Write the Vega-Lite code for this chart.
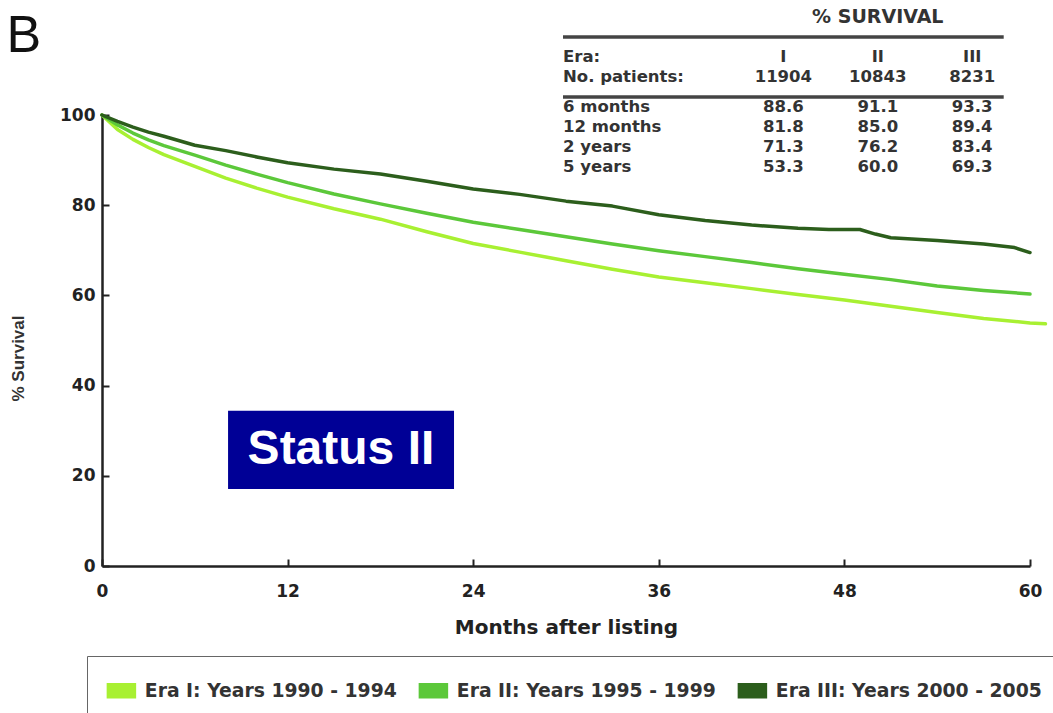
{
  "$schema": "https://vega.github.io/schema/vega-lite/v6.json",
  "width": 928,
  "height": 451,
  "autosize": {"type": "none"},
  "padding": {"left": 102, "top": 115, "right": 23, "bottom": 147},
  "background": "white",
  "config": {"view": {"stroke": null}},
  "resolve": {"scale": {"x": "independent", "y": "independent"}},
  "layer": [
    {
      "layer": [
        {
          "data": {"values": [
            {"era": "Era I: Years 1990 - 1994", "month": 0, "survival": 100},
            {"era": "Era I: Years 1990 - 1994", "month": 1, "survival": 96.8},
            {"era": "Era I: Years 1990 - 1994", "month": 2, "survival": 94.6},
            {"era": "Era I: Years 1990 - 1994", "month": 3, "survival": 92.8},
            {"era": "Era I: Years 1990 - 1994", "month": 4, "survival": 91.2},
            {"era": "Era I: Years 1990 - 1994", "month": 6, "survival": 88.6},
            {"era": "Era I: Years 1990 - 1994", "month": 8, "survival": 86.0},
            {"era": "Era I: Years 1990 - 1994", "month": 10, "survival": 83.8},
            {"era": "Era I: Years 1990 - 1994", "month": 12, "survival": 81.8},
            {"era": "Era I: Years 1990 - 1994", "month": 15, "survival": 79.2},
            {"era": "Era I: Years 1990 - 1994", "month": 18, "survival": 76.9},
            {"era": "Era I: Years 1990 - 1994", "month": 21, "survival": 74.1},
            {"era": "Era I: Years 1990 - 1994", "month": 24, "survival": 71.5},
            {"era": "Era I: Years 1990 - 1994", "month": 27, "survival": 69.6},
            {"era": "Era I: Years 1990 - 1994", "month": 30, "survival": 67.7},
            {"era": "Era I: Years 1990 - 1994", "month": 33, "survival": 65.8},
            {"era": "Era I: Years 1990 - 1994", "month": 36, "survival": 64.1},
            {"era": "Era I: Years 1990 - 1994", "month": 39, "survival": 62.8},
            {"era": "Era I: Years 1990 - 1994", "month": 42, "survival": 61.5},
            {"era": "Era I: Years 1990 - 1994", "month": 45, "survival": 60.2},
            {"era": "Era I: Years 1990 - 1994", "month": 48, "survival": 59.0},
            {"era": "Era I: Years 1990 - 1994", "month": 51, "survival": 57.6},
            {"era": "Era I: Years 1990 - 1994", "month": 54, "survival": 56.2},
            {"era": "Era I: Years 1990 - 1994", "month": 57, "survival": 54.9},
            {"era": "Era I: Years 1990 - 1994", "month": 60, "survival": 53.9},
            {"era": "Era I: Years 1990 - 1994", "month": 61, "survival": 53.7},
            {"era": "Era II: Years 1995 - 1999", "month": 0, "survival": 100},
            {"era": "Era II: Years 1995 - 1999", "month": 1, "survival": 97.8},
            {"era": "Era II: Years 1995 - 1999", "month": 2, "survival": 96.0},
            {"era": "Era II: Years 1995 - 1999", "month": 3, "survival": 94.5},
            {"era": "Era II: Years 1995 - 1999", "month": 4, "survival": 93.2},
            {"era": "Era II: Years 1995 - 1999", "month": 6, "survival": 91.1},
            {"era": "Era II: Years 1995 - 1999", "month": 8, "survival": 88.9},
            {"era": "Era II: Years 1995 - 1999", "month": 10, "survival": 86.9},
            {"era": "Era II: Years 1995 - 1999", "month": 12, "survival": 85.0},
            {"era": "Era II: Years 1995 - 1999", "month": 15, "survival": 82.5},
            {"era": "Era II: Years 1995 - 1999", "month": 18, "survival": 80.3},
            {"era": "Era II: Years 1995 - 1999", "month": 21, "survival": 78.2},
            {"era": "Era II: Years 1995 - 1999", "month": 24, "survival": 76.2},
            {"era": "Era II: Years 1995 - 1999", "month": 27, "survival": 74.6},
            {"era": "Era II: Years 1995 - 1999", "month": 30, "survival": 73.0},
            {"era": "Era II: Years 1995 - 1999", "month": 33, "survival": 71.4},
            {"era": "Era II: Years 1995 - 1999", "month": 36, "survival": 69.9},
            {"era": "Era II: Years 1995 - 1999", "month": 39, "survival": 68.6},
            {"era": "Era II: Years 1995 - 1999", "month": 42, "survival": 67.3},
            {"era": "Era II: Years 1995 - 1999", "month": 45, "survival": 65.9},
            {"era": "Era II: Years 1995 - 1999", "month": 48, "survival": 64.7},
            {"era": "Era II: Years 1995 - 1999", "month": 51, "survival": 63.5},
            {"era": "Era II: Years 1995 - 1999", "month": 54, "survival": 62.1},
            {"era": "Era II: Years 1995 - 1999", "month": 57, "survival": 61.1},
            {"era": "Era II: Years 1995 - 1999", "month": 60, "survival": 60.3},
            {"era": "Era III: Years 2000 - 2005", "month": 0, "survival": 100},
            {"era": "Era III: Years 2000 - 2005", "month": 1, "survival": 98.6},
            {"era": "Era III: Years 2000 - 2005", "month": 2, "survival": 97.3},
            {"era": "Era III: Years 2000 - 2005", "month": 3, "survival": 96.2},
            {"era": "Era III: Years 2000 - 2005", "month": 4, "survival": 95.3},
            {"era": "Era III: Years 2000 - 2005", "month": 6, "survival": 93.3},
            {"era": "Era III: Years 2000 - 2005", "month": 8, "survival": 92.1},
            {"era": "Era III: Years 2000 - 2005", "month": 10, "survival": 90.7},
            {"era": "Era III: Years 2000 - 2005", "month": 12, "survival": 89.4},
            {"era": "Era III: Years 2000 - 2005", "month": 15, "survival": 88.0},
            {"era": "Era III: Years 2000 - 2005", "month": 18, "survival": 86.9},
            {"era": "Era III: Years 2000 - 2005", "month": 21, "survival": 85.3},
            {"era": "Era III: Years 2000 - 2005", "month": 24, "survival": 83.6},
            {"era": "Era III: Years 2000 - 2005", "month": 27, "survival": 82.4},
            {"era": "Era III: Years 2000 - 2005", "month": 30, "survival": 80.9},
            {"era": "Era III: Years 2000 - 2005", "month": 33, "survival": 79.8},
            {"era": "Era III: Years 2000 - 2005", "month": 36, "survival": 77.9},
            {"era": "Era III: Years 2000 - 2005", "month": 39, "survival": 76.6},
            {"era": "Era III: Years 2000 - 2005", "month": 42, "survival": 75.6},
            {"era": "Era III: Years 2000 - 2005", "month": 45, "survival": 74.9},
            {"era": "Era III: Years 2000 - 2005", "month": 47, "survival": 74.6},
            {"era": "Era III: Years 2000 - 2005", "month": 49, "survival": 74.6},
            {"era": "Era III: Years 2000 - 2005", "month": 50, "survival": 73.6},
            {"era": "Era III: Years 2000 - 2005", "month": 51, "survival": 72.8},
            {"era": "Era III: Years 2000 - 2005", "month": 54, "survival": 72.2},
            {"era": "Era III: Years 2000 - 2005", "month": 57, "survival": 71.4},
            {"era": "Era III: Years 2000 - 2005", "month": 59, "survival": 70.6},
            {"era": "Era III: Years 2000 - 2005", "month": 60, "survival": 69.5}
          ]},
          "mark": {"type": "line", "strokeWidth": 3.5, "strokeCap": "round", "strokeJoin": "round", "clip": false},
          "encoding": {
            "x": {"field": "month", "type": "quantitative",
              "scale": {"domain": [0, 60], "nice": false, "zero": false},
              "axis": {"title": "Months after listing", "values": [0, 12, 24, 36, 48, 60], "grid": false,
                "domainColor": "#222", "domainWidth": 2.5, "tickColor": "#222", "tickWidth": 2, "tickSize": -7,
                "labelFont": "DejaVu Sans", "labelFontWeight": "bold", "labelFontSize": 17, "labelColor": "#222", "labelPadding": 24, "labelFlush": false,
                "titleFont": "DejaVu Sans", "titleFontWeight": "bold", "titleFontSize": 20, "titleColor": "#222", "titlePadding": 18}},
            "y": {"field": "survival", "type": "quantitative",
              "scale": {"domain": [0, 100], "nice": false},
              "axis": {"title": "% Survival", "values": [0, 20, 40, 60, 80, 100], "grid": false,
                "domainColor": "#222", "domainWidth": 2.5, "tickColor": "#222", "tickWidth": 2, "tickSize": -7,
                "labelFont": "DejaVu Sans", "labelFontWeight": "bold", "labelFontSize": 17, "labelColor": "#222", "labelPadding": 14,
                "titleFont": "Liberation Sans", "titleFontWeight": "bold", "titleFontSize": 17, "titleColor": "#333", "titlePadding": 32, "titleY": 243}},
            "color": {"field": "era", "type": "nominal",
              "scale": {"domain": ["Era I: Years 1990 - 1994", "Era II: Years 1995 - 1999", "Era III: Years 2000 - 2005"], "range": ["#a8f032", "#5cc83a", "#2c5e1c"]},
              "legend": {"title": null, "orient": "none", "legendX": -15, "legendY": 541, "direction": "horizontal",
                "symbolType": "M-2,-1H2V1H-2Z", "symbolSize": 196, "symbolOpacity": 1,
                "labelFont": "DejaVu Sans", "labelFontWeight": "bold", "labelFontSize": 18.8, "labelColor": "#333", "labelLimit": 400,
                "labelOffset": 14, "columnPadding": 19, "padding": 25, "strokeColor": "#666",
                "encode": {"symbols": {"update": {"fill": {"scale": "color", "field": "value"}, "stroke": {"value": "#555"}, "strokeWidth": {"value": 1.5}, "opacity": {"value": 1}}}}}}
          }
        },
        {
          "data": {"values": [{"label": "Status II"}]},
          "layer": [
            {
              "mark": {"type": "rect", "color": "#000096", "clip": false},
              "encoding": {
                "x": {"datum": 8.15, "type": "quantitative"},
                "x2": {"datum": 22.76},
                "y": {"datum": 34.4, "type": "quantitative"},
                "y2": {"datum": 17.1}
              }
            },
            {
              "mark": {"type": "text", "color": "white", "font": "Liberation Sans", "fontWeight": "bold", "fontSize": 48, "align": "center", "baseline": "middle", "clip": false},
              "encoding": {
                "x": {"datum": 15.45, "type": "quantitative"},
                "y": {"datum": 25.7, "type": "quantitative"},
                "text": {"field": "label"}
              }
            }
          ]
        },
        {
          "data": {"values": [{"label": "B"}]},
          "mark": {"type": "text", "color": "#111", "font": "Liberation Sans", "fontWeight": "normal", "fontSize": 52, "align": "left", "baseline": "alphabetic", "clip": false},
          "encoding": {
            "x": {"datum": -6.17, "type": "quantitative"},
            "y": {"datum": 114, "type": "quantitative"},
            "text": {"field": "label"}
          }
        }
      ]
    },
    {
      "layer": [
        {
          "data": {"values": [{"row": "rule1"}, {"row": "rule2"}]},
          "mark": {"type": "rule", "color": "#444", "strokeWidth": 3.5, "clip": false},
          "encoding": {
            "x": {"datum": "label", "type": "nominal", "axis": null,
              "scale": {"type": "point", "domain": ["label", "a1", "a2", "a3", "a4", "a5", "a6", "I", "b1", "b2", "II", "c1", "c2", "III", "end"], "range": [461, 901.7], "padding": 0}},
            "x2": {"datum": "end"},
            "y": {"field": "row", "type": "nominal", "axis": null,
              "scale": {"type": "point", "domain": ["title", "g1", "rule1", "g2", "era", "g3", "n", "g4", "rule2", "6m", "g5", "12m", "g6", "2y", "g7", "5y"], "range": [-98, 52], "padding": 0}}
          }
        },
        {
          "data": {"values": [
            {"row": "title", "col": "II", "text": "% SURVIVAL"},
            {"row": "era", "col": "label", "text": "Era:"},
            {"row": "era", "col": "I", "text": "I"},
            {"row": "era", "col": "II", "text": "II"},
            {"row": "era", "col": "III", "text": "III"},
            {"row": "n", "col": "label", "text": "No. patients:"},
            {"row": "n", "col": "I", "text": "11904"},
            {"row": "n", "col": "II", "text": "10843"},
            {"row": "n", "col": "III", "text": "8231"},
            {"row": "6m", "col": "label", "text": "6 months"},
            {"row": "6m", "col": "I", "text": "88.6"},
            {"row": "6m", "col": "II", "text": "91.1"},
            {"row": "6m", "col": "III", "text": "93.3"},
            {"row": "12m", "col": "label", "text": "12 months"},
            {"row": "12m", "col": "I", "text": "81.8"},
            {"row": "12m", "col": "II", "text": "85.0"},
            {"row": "12m", "col": "III", "text": "89.4"},
            {"row": "2y", "col": "label", "text": "2 years"},
            {"row": "2y", "col": "I", "text": "71.3"},
            {"row": "2y", "col": "II", "text": "76.2"},
            {"row": "2y", "col": "III", "text": "83.4"},
            {"row": "5y", "col": "label", "text": "5 years"},
            {"row": "5y", "col": "I", "text": "53.3"},
            {"row": "5y", "col": "II", "text": "60.0"},
            {"row": "5y", "col": "III", "text": "69.3"}
          ]},
          "layer": [
            {
              "transform": [{"filter": "datum.col == 'label'"}],
              "mark": {"type": "text", "align": "left", "baseline": "middle", "font": "DejaVu Sans", "fontWeight": "bold", "fontSize": 16.5, "color": "#333", "clip": false},
              "encoding": {
                "x": {"field": "col", "type": "nominal", "axis": null},
                "y": {"field": "row", "type": "nominal", "axis": null},
                "text": {"field": "text"}
              }
            },
            {
              "transform": [{"filter": "datum.col != 'label' && datum.row != 'title'"}],
              "mark": {"type": "text", "align": "center", "baseline": "middle", "font": "DejaVu Sans", "fontWeight": "bold", "fontSize": 16.5, "color": "#333", "clip": false},
              "encoding": {
                "x": {"field": "col", "type": "nominal", "axis": null},
                "y": {"field": "row", "type": "nominal", "axis": null},
                "text": {"field": "text"}
              }
            },
            {
              "transform": [{"filter": "datum.row == 'title'"}],
              "mark": {"type": "text", "align": "center", "baseline": "middle", "font": "DejaVu Sans", "fontWeight": "bold", "fontSize": 19, "color": "#333", "clip": false},
              "encoding": {
                "x": {"field": "col", "type": "nominal", "axis": null},
                "y": {"field": "row", "type": "nominal", "axis": null},
                "text": {"field": "text"}
              }
            }
          ]
        }
      ]
    }
  ]
}
